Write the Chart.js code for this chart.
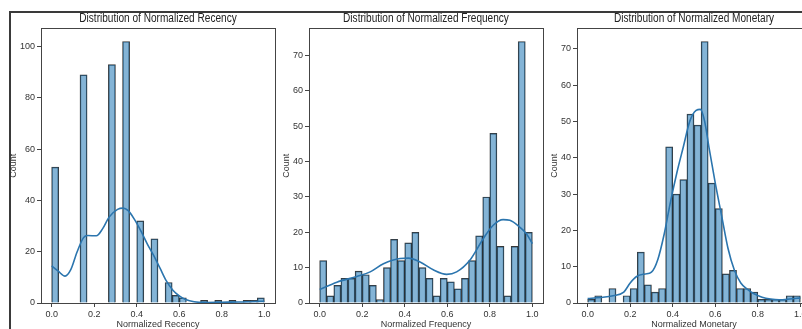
<!DOCTYPE html>
<html>
<head>
<meta charset="utf-8">
<script src="https://cdn.jsdelivr.net/npm/chart.js@4.4.1/dist/chart.umd.min.js"></script>
<style>
  html, body { margin: 0; padding: 0; background: #fff; overflow: hidden; }
  #wrap { position: relative; width: 802px; height: 329px; overflow: hidden; }
  #frame { position: absolute; left: 9px; top: 11px; width: 900px; height: 400px;
           border-top: 2px solid #3a3a3a; border-left: 2px solid #3a3a3a; }
  canvas { position: absolute; top: 0; }
</style>
</head>
<body>
<div id="wrap">
  <div id="frame"></div>
  <canvas id="recency" width="316" height="329" style="left:0px"></canvas>
  <canvas id="frequency" width="316" height="329" style="left:268px"></canvas>
  <canvas id="monetary" width="316" height="329" style="left:536px"></canvas>
</div>
<script>
// 30 equal bins over the normalised range 0..1
const binCount = 30;

// Histogram counts per bin
const recencyCounts = [53, 0, 0, 0, 89, 0, 0, 0, 93, 0, 102, 0, 32, 0, 25, 0, 8, 3, 2, 0, 0, 1, 0, 1, 0, 1, 0, 1, 1, 2];
const frequencyCounts = [12, 2, 5, 7, 7, 9, 8, 5, 1, 10, 18, 12, 17, 20, 10, 7, 2, 7, 6, 4, 7, 12, 19, 30, 48, 16, 2, 16, 74, 20];
const monetaryCounts = [1, 2, 0, 4, 0, 2, 4, 14, 5, 3, 4, 43, 30, 34, 52, 49, 72, 33, 26, 8, 9, 4, 4, 3, 1, 1, 1, 1, 2, 2];

// KDE curves
const recencyKdeX = [0, 0.03, 0.063, 0.09, 0.12, 0.15, 0.17, 0.21, 0.24, 0.27, 0.31, 0.335, 0.36, 0.39, 0.42, 0.45, 0.48, 0.51, 0.54, 0.57, 0.6, 0.63, 0.67, 0.72, 0.8, 0.88, 0.95, 1.0];
const recencyKdeY = [14.5, 12.5, 10.5, 13, 20, 25.5, 26.3, 26.2, 29, 33.5, 36.5, 37, 36, 32.5, 28, 23, 18.5, 13.5, 8.5, 5, 2.8, 1.4, 0.5, 0.2, 0.3, 0.4, 0.6, 0.7];
const frequencyKdeX = [0, 0.081, 0.175, 0.2375, 0.3, 0.378, 0.417, 0.472, 0.534, 0.597, 0.644, 0.706, 0.769, 0.816, 0.8625, 0.894, 0.94, 0.972, 1.0];
const frequencyKdeY = [3.8, 5.9, 7.5, 8.8, 11.1, 12.6, 12.7, 11.6, 9.4, 8.1, 8.8, 12.1, 18.2, 22, 23.6, 23.4, 21.5, 19.6, 16.8];
const monetaryKdeX = [0, 0.06, 0.12, 0.17, 0.2, 0.23, 0.27, 0.3, 0.33, 0.36, 0.39, 0.42, 0.45, 0.48, 0.51, 0.53, 0.55, 0.57, 0.6, 0.63, 0.66, 0.69, 0.72, 0.75, 0.78, 0.82, 0.86, 0.9, 0.95, 1.0];
const monetaryKdeY = [1.2, 1.5, 2.0, 3.0, 5.5, 7.3, 8.0, 8.5, 12, 19, 28, 36, 43, 50, 53, 53.3, 50, 43, 33, 24, 15, 9, 5.5, 3.8, 2.6, 1.6, 1.1, 0.9, 1.1, 1.4];

// Tick labels
const xTicks = [0, 0.2, 0.4, 0.6, 0.8, 1.0];
const recencyYTicks = [0, 20, 40, 60, 80, 100];
const countYTicks = [0, 10, 20, 30, 40, 50, 60, 70];

const FONT = "'Liberation Sans', 'DejaVu Sans', sans-serif";
Chart.defaults.font.family = FONT;
Chart.defaults.color = '#333';

// matplotlib-style box round the plot area, plus a slightly condensed title centred on it
const axesFrame = {
    id: 'axesFrame',
    afterDatasetsDraw(chart, args, opts) {
        const {ctx, chartArea: a} = chart;
        ctx.save();
        ctx.strokeStyle = '#444';
        ctx.lineWidth = 1;
        ctx.strokeRect(Math.round(a.left) + 0.5, Math.round(a.top) + 0.5,
            Math.round(a.right - a.left), Math.round(a.bottom - a.top));

        ctx.translate((a.left + a.right) / 2, 19);
        ctx.scale(0.84, 1);
        ctx.font = '12px ' + FONT;
        ctx.fillStyle = '#222';
        ctx.textAlign = 'center';
        ctx.textBaseline = 'middle';
        ctx.fillText(opts.text, 0, 0);
        ctx.restore();
    }
};

/**
 * Create a histogram with a KDE line on top
 */
function createHistogram(id, title, xLabel, counts, kdeX, kdeY, yTicks, yLabelPad) {
    const bars = counts.map((c, i) => ({x: (i + 0.5) / binCount, y: c}));
    const kde = kdeX.map((x, i) => ({x: x, y: kdeY[i]}));
    const yMax = Math.max(...counts) * 1.05;
    return new Chart(document.getElementById(id), {
        type: 'bar',
        data: {
            datasets: [{
                type: 'line',
                data: kde,
                borderColor: '#2b75ae',
                borderWidth: 1.6,
                pointRadius: 0,
                cubicInterpolationMode: 'monotone',
                fill: false,
                order: 0
            }, {
                type: 'bar',
                data: bars,
                backgroundColor: 'rgba(31,119,180,0.55)',
                borderColor: 'rgba(20,20,20,0.85)',
                borderWidth: 0.8,
                borderSkipped: 'start',
                barPercentage: 1,
                categoryPercentage: 1,
                order: 1
            }]
        },
        options: {
            responsive: false,
            animation: false,
            layout: {padding: {left: 0, right: 41, top: 28.4, bottom: 0}},
            plugins: {
                legend: {display: false},
                tooltip: {enabled: false},
                title: {display: false},
                axesFrame: {text: title}
            },
            scales: {
                x: {
                    type: 'linear',
                    min: -0.05,
                    max: 1.05,
                    offset: false,
                    grid: {display: true, drawOnChartArea: false, drawTicks: true, tickLength: 4, tickColor: '#444', offset: false},
                    border: {display: false},
                    afterBuildTicks: s => { s.ticks = xTicks.map(v => ({value: v})); },
                    afterFit: s => { s.height = 26; },
                    ticks: {font: {size: 9}, padding: 2, maxRotation: 0, callback: v => v.toFixed(1)},
                    title: {display: true, text: xLabel, font: {size: 9, lineHeight: 1.2}, padding: {top: 0, bottom: -1.4}}
                },
                y: {
                    type: 'linear',
                    min: 0,
                    max: yMax,
                    grid: {display: true, drawOnChartArea: false, drawTicks: true, tickLength: 4, tickColor: '#444'},
                    border: {display: false},
                    afterBuildTicks: s => { s.ticks = yTicks.map(v => ({value: v})); },
                    afterFit: s => { s.width = 41; },
                    ticks: {font: {size: 9}, padding: 2},
                    title: {display: true, text: 'Count', font: {size: 9, lineHeight: 1.2}, padding: {top: yLabelPad, bottom: 0}}
                }
            }
        },
        plugins: [axesFrame]
    });
}

createHistogram('recency', 'Distribution of Normalized Recency', 'Normalized Recency',
    recencyCounts, recencyKdeX, recencyKdeY, recencyYTicks, 8.6);
createHistogram('frequency', 'Distribution of Normalized Frequency', 'Normalized Frequency',
    frequencyCounts, frequencyKdeX, frequencyKdeY, countYTicks, 13.6);
createHistogram('monetary', 'Distribution of Normalized Monetary', 'Normalized Monetary',
    monetaryCounts, monetaryKdeX, monetaryKdeY, countYTicks, 13.6);
</script>
</body>
</html>
